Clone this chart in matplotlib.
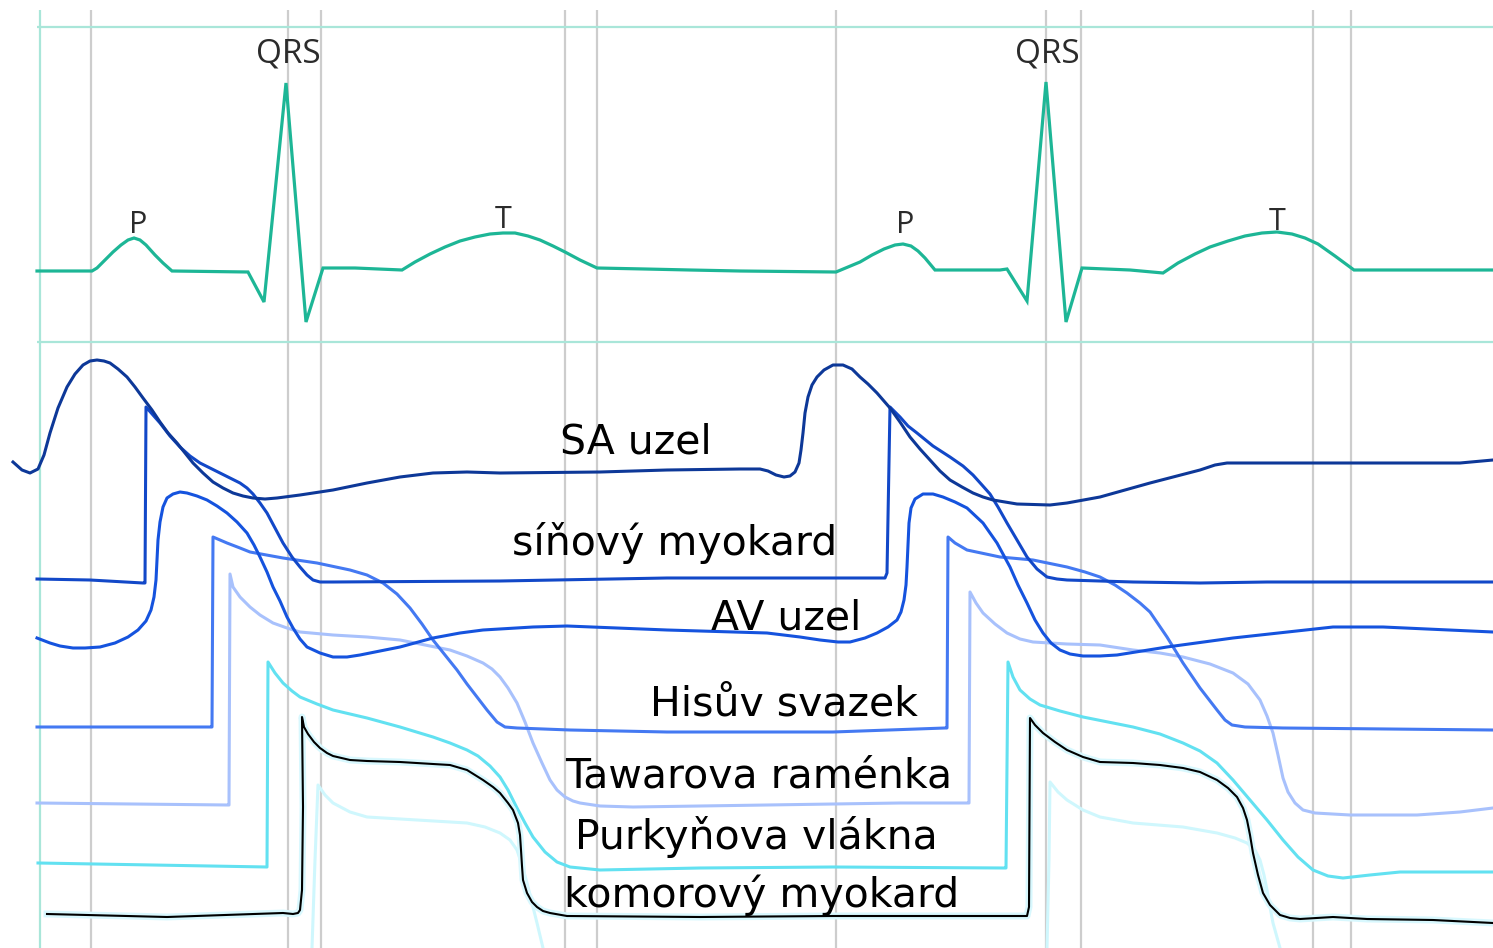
import matplotlib
matplotlib.use("Agg")
import matplotlib.pyplot as plt
import matplotlib.patheffects as pe

# ---------------- data (pixel-space readings) ----------------
W, H = 1493, 948

grid_gray_x = [91, 288, 321, 565, 597, 836, 1046, 1081, 1313, 1351]
grid_teal_x = [40]
grid_teal_y = [27, 342]

ecg_x = [37, 92, 97, 105, 113, 121, 128, 134, 140, 146, 155, 163, 172, 248, 264, 286, 306, 323,
         355, 402, 415, 430, 445, 460, 475, 490, 503, 515, 528, 540, 553, 565, 580, 597,
         645, 690, 740, 836, 848, 860, 872, 884, 895, 903, 911, 918, 925, 930, 935,
         1000, 1007, 1027, 1046, 1066, 1082, 1130, 1163, 1178, 1195, 1210, 1228, 1245,
         1262, 1277, 1292, 1305, 1318, 1335, 1354, 1493]
ecg_y = [271, 271, 268, 260, 252, 245, 240, 238, 240, 245, 255, 263, 271, 272, 302, 83, 322, 268,
         268, 270, 262, 254, 247, 241, 237, 234, 233, 233, 236, 240, 246, 252, 260, 268,
         269, 270, 271, 272, 267, 262, 255, 249, 245, 244, 246, 251, 258, 264, 270,
         270, 269, 301, 82, 322, 268, 270, 273, 263, 254, 247, 241, 236,
         233, 232, 234, 238, 244, 256, 270, 270]

sa_x = [13, 22, 30, 38, 44, 50, 58, 67, 75, 83, 90, 97, 104, 110, 118, 127, 135, 143, 152, 160,
        168, 177, 185, 193, 203, 213, 223, 233, 243, 253, 265, 277, 300, 333, 367, 400, 433,
        467, 500, 600, 667, 740, 760, 768, 776, 784, 790, 795, 799, 801, 803, 805, 808, 812,
        817, 824, 833, 843, 852, 860, 868, 877, 890, 900, 910, 920, 930, 940, 950, 962, 973,
        983, 993, 1017, 1050, 1067, 1100, 1150, 1200, 1215, 1227, 1300, 1433, 1460, 1493]
sa_y = [462, 470, 473, 469, 455, 433, 408, 387, 374, 365, 361, 360, 361, 363, 369, 377, 387, 398,
        410, 422, 433, 443, 453, 463, 473, 482, 488, 493, 496, 498, 499, 498, 495, 490, 483, 477,
        473, 472, 473, 472, 470, 469, 469, 471, 475, 477, 476, 472, 463, 450, 433, 413, 397, 385,
        377, 370, 365, 365, 369, 377, 384, 393, 408, 422, 437, 449, 460, 471, 480, 487, 493,
        497, 500, 504, 505, 503, 497, 483, 470, 465, 463, 463, 463, 463, 460]

atr_x = [37, 90, 143, 145, 146, 153, 160, 170, 180, 190, 200, 210, 220, 230, 240, 247, 253, 260,
         267, 275, 283, 292, 300, 307, 313, 320, 333, 500, 667, 833, 885, 887, 890, 900, 908,
         917, 933, 950, 963, 973, 982, 990, 998, 1007, 1017, 1027, 1037, 1047, 1057, 1067,
         1133, 1200, 1267, 1493]
atr_y = [579, 580, 583, 583, 407, 415, 423, 436, 447, 456, 463, 468, 473, 478, 483, 488, 494, 503,
         513, 528, 543, 557, 567, 575, 580, 582, 582, 581, 578, 578, 578, 573, 407, 417, 426,
         433, 446, 457, 466, 475, 485, 494, 507, 523, 540, 557, 569, 577, 579, 580,
         582, 583, 582, 582]

av_x = [37, 50, 60, 73, 85, 100, 115, 128, 138, 146, 151, 154, 156, 157, 158, 160, 163, 167, 173,
        180, 187, 197, 207, 217, 227, 237, 247, 254, 260, 267, 273, 280, 287, 293, 300, 307,
        320, 333, 347, 360, 380, 400, 433, 460, 483, 533, 567, 667, 767, 800, 820, 838, 850,
        865, 877, 888, 897, 901, 904, 906, 907, 908, 909, 911, 915, 923, 933, 943, 955, 967,
        983, 997, 1010, 1018, 1027, 1035, 1043, 1051, 1060, 1070, 1083, 1100, 1117, 1167,
        1233, 1333, 1383, 1493]
av_y = [638, 643, 646, 648, 648, 647, 643, 637, 630, 621, 610, 597, 580, 560, 540, 522, 507, 498,
        494, 492, 493, 496, 500, 506, 513, 522, 533, 545, 557, 572, 587, 601, 617, 628, 639, 647,
        653, 657, 657, 655, 651, 647, 638, 633, 630, 627, 626, 630, 633, 637, 640, 642, 642,
        638, 633, 627, 620, 612, 600, 585, 567, 545, 523, 508, 499, 494, 494, 497, 502, 508,
        523, 543, 567, 585, 603, 620, 633, 643, 650, 654, 656, 656, 655, 647,
        638, 627, 627, 632]

his_x = [37, 210, 212, 213, 220, 227, 240, 250, 283, 317, 350, 367, 383, 397, 410, 422, 433, 445,
         457, 467, 477, 487, 497, 505, 517, 570, 667, 833, 945, 947, 948, 955, 967, 1000, 1033,
         1067, 1085, 1100, 1115, 1127, 1140, 1150, 1167, 1183, 1200, 1217, 1225, 1232, 1245,
         1283, 1493]
his_y = [727, 727, 727, 537, 540, 543, 548, 552, 558, 563, 570, 575, 583, 594, 608, 624, 640, 655,
         670, 684, 697, 710, 722, 727, 728, 730, 732, 732, 728, 728, 537, 543, 550, 557, 560,
         567, 572, 577, 585, 593, 603, 612, 637, 663, 688, 710, 720, 725, 727,
         728, 730]

taw_x = [37, 228, 229, 230, 233, 240, 250, 260, 273, 287, 300, 333, 367, 400, 425, 450, 467, 483,
         492, 500, 508, 517, 525, 533, 542, 550, 557, 565, 573, 580, 600, 633, 767, 900, 967,
         969, 970, 976, 983, 995, 1007, 1020, 1033, 1067, 1100, 1133, 1160, 1183, 1210, 1233,
         1248, 1260, 1267, 1273, 1278, 1283, 1288, 1295, 1303, 1315, 1350, 1417, 1460, 1493]
taw_y = [803, 805, 805, 574, 587, 597, 607, 615, 623, 628, 632, 635, 637, 640, 645, 650, 656, 663,
         669, 677, 688, 703, 722, 743, 763, 780, 790, 797, 801, 803, 806, 807, 805, 803, 803,
         803, 592, 603, 613, 624, 633, 639, 642, 644, 645, 650, 653, 657, 664, 673,
         684, 700, 716, 733, 755, 778, 792, 803, 810, 813, 815, 815, 812, 808]

pur_x = [38, 267, 268, 275, 283, 292, 300, 317, 333, 367, 400, 433, 450, 467, 478, 490, 500, 508,
         517, 525, 533, 545, 557, 570, 600, 700, 833, 1005, 1006, 1008, 1013, 1020, 1030, 1040,
         1060, 1083, 1133, 1160, 1183, 1200, 1217, 1233, 1250, 1267, 1283, 1298, 1313, 1328,
         1343, 1370, 1400, 1493]
pur_y = [863, 867, 662, 673, 683, 691, 697, 704, 710, 718, 727, 737, 743, 750, 756, 766, 777, 790,
         808, 823, 837, 852, 862, 867, 870, 868, 867, 868, 868, 662, 677, 690, 699, 705,
         711, 717, 727, 734, 743, 751, 763, 780, 800, 820, 840, 857, 870, 876,
         878, 875, 872, 872]

ghost1_x = [312, 315, 318, 325, 333, 350, 367, 417, 467, 485, 500, 510, 517, 522, 527, 532, 537, 543]
ghost1_y = [948, 860, 785, 795, 803, 812, 817, 820, 823, 827, 833, 840, 850, 865, 883, 903, 923, 948]
ghost2_x = [1047, 1049, 1050, 1058, 1067, 1083, 1100, 1133, 1183, 1217, 1235, 1247, 1255, 1260,
            1264, 1267, 1270, 1273, 1280]
ghost2_y = [948, 860, 782, 792, 800, 810, 817, 823, 827, 833, 838, 843, 850, 860,
            875, 890, 907, 923, 948]

ven_x = [47, 167, 283, 293, 298, 300, 302, 303, 302, 304, 308, 314, 320, 327, 333, 350, 367, 400,
         433, 450, 467, 483, 493, 500, 508, 513, 518, 520, 521, 522, 523, 527, 532, 537, 543,
         550, 567, 700, 833, 1000, 1027, 1029, 1030, 1035, 1043, 1055, 1067, 1083, 1100, 1133,
         1160, 1183, 1200, 1217, 1228, 1237, 1243, 1247, 1250, 1253, 1258, 1263, 1270, 1280,
         1290, 1300, 1333, 1367, 1433, 1493]
ven_y = [914, 917, 913, 914, 913, 910, 890, 807, 717, 727, 734, 742, 748, 753, 756, 760, 761, 762,
         764, 765, 770, 780, 787, 793, 803, 810, 823, 835, 850, 866, 880, 893, 902, 907, 911,
         913, 916, 917, 916, 916, 916, 907, 718, 725, 733, 742, 750, 757, 762, 763,
         765, 768, 772, 780, 788, 797, 808, 820, 835, 853, 875, 893, 905, 915,
         918, 919, 917, 919, 920, 923]

ecg_labels = ["QRS", "QRS", "P", "P", "T", "T"]
ecg_label_x = [288, 1047, 138, 905, 503, 1277]
ecg_label_y = [62, 62, 233, 233, 228, 230]
ecg_label_size = [24, 24, 22, 22, 22, 22]

names = ["SA uzel", "síňový myokard", "AV uzel", "Hisův svazek",
         "Tawarova raménka", "Purkyňova vlákna", "komorový myokard"]
name_x = [636, 675, 786, 784, 759, 756, 762]
name_y = [453, 555, 630, 715, 788, 849, 907]

# ---------------- drawing ----------------
fig = plt.figure(figsize=(W / 100, H / 100), dpi=100)
ax = fig.add_axes([0, 0, 1, 1])
ax.set_xlim(0, W)
ax.set_ylim(H, 0)
ax.axis("off")

for gx in grid_gray_x:
    ax.plot([gx, gx], [10, H], color="#cdcdcd", lw=1.6, zorder=1, solid_capstyle="butt")
for gx in grid_teal_x:
    ax.plot([gx, gx], [10, H], color="#a9e6d9", lw=1.6, zorder=1, solid_capstyle="butt")
for gy in grid_teal_y:
    ax.plot([37, W], [gy, gy], color="#a9e6d9", lw=1.6, zorder=1, solid_capstyle="butt")

ax.plot(ecg_x, ecg_y, color="#1db696", lw=2.3, zorder=3, solid_joinstyle="miter")

ax.plot(ghost1_x, ghost1_y, color="#cff7fd", lw=2.2, zorder=2)
ax.plot(ghost2_x, ghost2_y, color="#cff7fd", lw=2.2, zorder=2)

ax.plot(taw_x, taw_y, color="#a8c1fc", lw=2.2, zorder=3)
ax.plot(pur_x, pur_y, color="#62e1f1", lw=2.2, zorder=3)
ax.plot(his_x, his_y, color="#4479f2", lw=2.2, zorder=4)
ax.plot(av_x, av_y, color="#1553de", lw=2.2, zorder=4)
ax.plot(atr_x, atr_y, color="#1248c8", lw=2.2, zorder=5)
ax.plot(sa_x, sa_y, color="#0d3898", lw=2.2, zorder=6)

ax.plot(ven_x, ven_y, color="black", lw=1.5, zorder=7,
        path_effects=[pe.Stroke(linewidth=5, foreground="#d8f8fe"), pe.Normal()])

for t, x, y, s in zip(ecg_labels, ecg_label_x, ecg_label_y, ecg_label_size):
    ax.text(x, y, t, ha="center", va="baseline", fontsize=s, color="#2b2b2b",
            family="Open Sans", zorder=8)

for t, x, y in zip(names, name_x, name_y):
    ax.text(x, y, t, ha="center", va="baseline", fontsize=29.5, color="black",
            family="DejaVu Sans", zorder=8)

fig.savefig("out.png", dpi=100)
